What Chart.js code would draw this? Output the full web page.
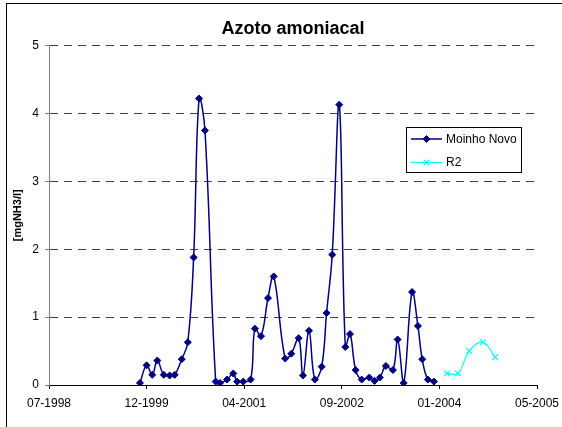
<!DOCTYPE html>
<html>
<head>
<meta charset="utf-8">
<title>Azoto amoniacal</title>
<script src="https://cdn.jsdelivr.net/npm/chart.js@4.4.1/dist/chart.umd.min.js"></script>
<style>
  html, body { margin: 0; padding: 0; background: #fff; }
  #wrap { position: relative; width: 562px; height: 427px; }
</style>
</head>
<body>
<div id="wrap"><canvas id="ammoniaChart"></canvas></div>
<script>
// Sampling dates and readings (mg NH3/l)
const moinhoDates = [
  '1999-11-02', '1999-12-06', '2000-01-04', '2000-01-30', '2000-03-03', '2000-04-02',
  '2000-04-28', '2000-06-03', '2000-07-04', '2000-08-03', '2000-08-31', '2000-09-30',
  '2000-11-24', '2000-12-16', '2001-01-21', '2001-02-22', '2001-03-14', '2001-04-14',
  '2001-05-22', '2001-06-13', '2001-07-14', '2001-08-19', '2001-09-17', '2001-11-15',
  '2001-12-16', '2002-01-23', '2002-02-14', '2002-03-17', '2002-04-16', '2002-05-21',
  '2002-06-15', '2002-07-14', '2002-08-19', '2002-09-19', '2002-10-13', '2002-11-11',
  '2002-12-12', '2003-01-20', '2003-02-16', '2003-03-15', '2003-04-15', '2003-05-21',
  '2003-06-14', '2003-07-15', '2003-08-27', '2003-09-26', '2003-10-18', '2003-11-16',
  '2003-12-17'
];
const moinhoValues = [
  0.03, 0.29, 0.15, 0.36, 0.15, 0.14,
  0.15, 0.38, 0.63, 1.88, 4.22, 3.75,
  0.05, 0.03, 0.08, 0.17, 0.05, 0.05,
  0.08, 0.83, 0.72, 1.28, 1.60, 0.39,
  0.46, 0.69, 0.14, 0.80, 0.08, 0.27,
  1.06, 1.92, 4.13, 0.56, 0.75, 0.22,
  0.08, 0.11, 0.06, 0.11, 0.28, 0.22,
  0.67, 0.03, 1.37, 0.87, 0.38, 0.08,
  0.05
];
const r2Dates = ['2004-02-22', '2004-04-18', '2004-06-15', '2004-08-24', '2004-10-26'];
const r2Values = [0.17, 0.17, 0.50, 0.63, 0.41];

const xTickLabels = ['07-1998', '12-1999', '04-2001', '09-2002', '01-2004', '05-2005'];
const yTicks = [0, 1, 2, 3, 4, 5];

const FONT = '"Liberation Sans", Arial, sans-serif';

// spreadsheet-style day serial (days since 1899-12-30)
function toSerial(iso) {
  const [y, m, d] = iso.split('-').map(Number);
  return Math.round((Date.UTC(y, m - 1, d) - Date.UTC(1899, 11, 30)) / 86400000);
}

function toPoints(dates, values) {
  return dates.map((d, i) => ({ x: toSerial(d), y: values[i] }));
}

const X_MIN = 36000;
const X_STEP = 500;
const X_MAX = X_MIN + X_STEP * (xTickLabels.length - 1);

// outer frame around the whole chart
const chartFrame = {
  id: 'chartFrame',
  beforeDraw(chart) {
    const ctx = chart.ctx;
    ctx.save();
    ctx.fillStyle = '#fff';
    ctx.fillRect(0, 0, chart.width, chart.height);
    ctx.strokeStyle = '#000';
    ctx.lineWidth = 1;
    ctx.strokeRect(6.5, 3.5, chart.width + 20, chart.height + 20);
    ctx.restore();
  }
};

// boxed legend with line + marker samples
const boxedLegend = {
  id: 'boxedLegend',
  afterDatasetsDraw(chart) {
    const { ctx, chartArea } = chart;
    const x = Math.round(chartArea.right - 131);
    const y = Math.round(chartArea.top + 81);
    const w = 115, h = 45;
    ctx.save();
    ctx.fillStyle = '#fff';
    ctx.fillRect(x, y, w, h);
    ctx.strokeStyle = '#000';
    ctx.lineWidth = 1;
    ctx.strokeRect(x + 0.5, y + 0.5, w, h);

    chart.data.datasets.forEach((ds, i) => {
      const cy = y + 12 + i * 23.5;
      ctx.strokeStyle = ds.borderColor;
      ctx.lineWidth = ds.borderWidth;
      ctx.beginPath();
      ctx.moveTo(x + 5, cy);
      ctx.lineTo(x + 36, cy);
      ctx.stroke();

      const style = {
        pointStyle: ds.pointStyle,
        radius: ds.pointRadius,
        borderWidth: ds.pointBorderWidth,
        rotation: 0
      };
      ctx.fillStyle = ds.pointBackgroundColor;
      ctx.strokeStyle = ds.pointBorderColor;
      ctx.lineWidth = ds.pointBorderWidth;
      Chart.helpers.drawPoint(ctx, style, x + 20.5, cy);

      ctx.fillStyle = '#000';
      ctx.font = '12px ' + FONT;
      ctx.textBaseline = 'middle';
      ctx.textAlign = 'left';
      ctx.fillText(ds.label, x + 40, cy + 0.5);
    });
    ctx.restore();
  }
};

const ctx = document.getElementById('ammoniaChart').getContext('2d');
new Chart(ctx, {
  type: 'line',
  data: {
    datasets: [
      {
        label: 'Moinho Novo',
        data: toPoints(moinhoDates, moinhoValues),
        borderColor: '#000080',
        borderWidth: 1.5,
        pointStyle: 'rectRot',
        pointRadius: 3.5,
        pointBorderWidth: 1,
        pointBackgroundColor: '#000080',
        pointBorderColor: '#000080',
        tension: 0.4,
        fill: false
      },
      {
        label: 'R2',
        data: toPoints(r2Dates, r2Values),
        borderColor: '#00FFFF',
        borderWidth: 1.2,
        pointStyle: 'crossRot',
        pointRadius: 4,
        pointBorderWidth: 1.2,
        pointBackgroundColor: '#00FFFF',
        pointBorderColor: '#00FFFF',
        tension: 0.4,
        fill: false
      }
    ]
  },
  options: {
    responsive: true,
    maintainAspectRatio: false,
    animation: false,
    layout: { padding: { left: 0, right: 25, top: 0, bottom: 0 } },
    plugins: {
      legend: { display: false },
      tooltip: { enabled: false },
      title: {
        display: true,
        text: 'Azoto amoniacal',
        fullSize: false,
        color: '#000',
        font: { family: FONT, size: 18, weight: 'bold' },
        padding: { top: 18, bottom: 6 }
      }
    },
    scales: {
      x: {
        type: 'linear',
        min: X_MIN,
        max: X_MAX,
        afterFit: (scale) => {
          scale.height = 42;
          // the end labels may hang over the plot edges
          scale.paddingLeft = 0;
          scale.paddingRight = 0;
        },
        ticks: {
          stepSize: X_STEP,
          autoSkip: false,
          maxRotation: 0,
          padding: 7,
          color: '#000',
          font: { family: FONT, size: 12 },
          callback: (value, index) => xTickLabels[index]
        },
        grid: {
          drawOnChartArea: false,
          drawTicks: true,
          tickLength: 4,
          tickColor: '#000'
        },
        border: { color: '#000', width: 1 }
      },
      y: {
        min: yTicks[0],
        max: yTicks[yTicks.length - 1],
        afterFit: (scale) => { scale.width = 49; },
        ticks: {
          stepSize: 1,
          padding: 6,
          color: '#000',
          font: { family: FONT, size: 12 }
        },
        grid: {
          color: (c) => (c.tick && c.tick.value === 0 ? 'rgba(0,0,0,0)' : '#404040'),
          tickColor: '#808080',
          tickLength: 4,
          tickBorderDash: [],
          lineWidth: 1
        },
        border: { color: '#808080', width: 1, dash: [8, 6] },
        title: {
          display: true,
          text: '[mgNH3/l]',
          color: '#000',
          font: { family: FONT, size: 11, weight: 'bold' },
          padding: { top: 11, bottom: 0 }
        }
      }
    }
  },
  plugins: [chartFrame, boxedLegend]
});
</script>
</body>
</html>
